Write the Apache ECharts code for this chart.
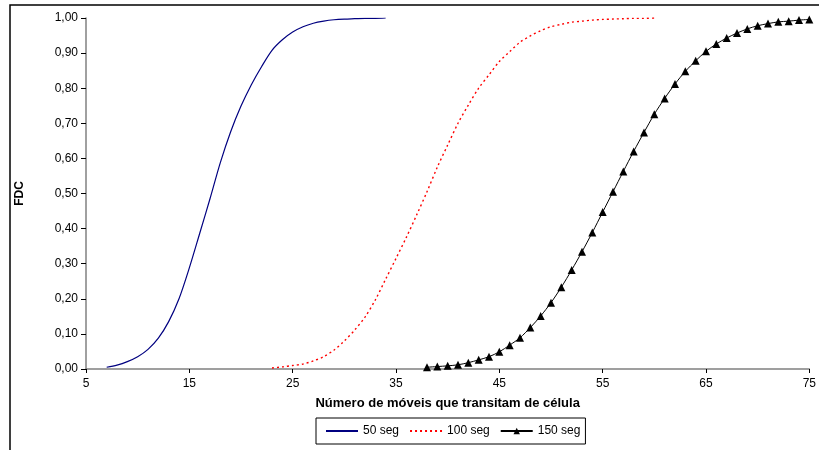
<!DOCTYPE html>
<html>
<head>
<meta charset="utf-8">
<script src="https://cdn.jsdelivr.net/npm/echarts@6/dist/echarts.min.js"></script>
<style>
  html, body { margin: 0; padding: 0; background: #fff; }
  #chart { width: 819px; height: 450px; }
</style>
</head>
<body>
<div id="chart"></div>
<script>
// FDC
const x50 = [7, 8, 9, 10, 11, 12, 13, 14, 15, 16, 17, 18, 19, 20, 21, 22, 23, 24, 25, 26, 27, 28, 29, 30, 31, 32, 33, 34];
const y50 = [0.005, 0.011, 0.021, 0.035, 0.056, 0.088, 0.135, 0.200, 0.288, 0.386, 0.485, 0.588, 0.676, 0.749,
  0.810, 0.862, 0.908, 0.938, 0.960, 0.975, 0.985, 0.991, 0.995, 0.997, 0.998, 0.999, 0.999, 1.000];

const x100 = [23, 24, 25, 26, 27, 28, 29, 30, 31, 32, 33, 34, 35, 36, 37, 38, 39, 40, 41, 42, 43, 44, 45, 46, 47,
  48, 49, 50, 51, 52, 53, 54, 55, 56, 57, 58, 59, 60];
const y100 = [0.003, 0.006, 0.010, 0.014, 0.023, 0.035, 0.054, 0.080, 0.111, 0.148, 0.197, 0.256, 0.315, 0.375,
  0.439, 0.505, 0.575, 0.638, 0.700, 0.752, 0.800, 0.838, 0.876, 0.904, 0.931, 0.949, 0.964, 0.975, 0.982,
  0.988, 0.991, 0.994, 0.996, 0.997, 0.998, 0.999, 0.999, 1.000];

const x150 = [38, 39, 40, 41, 42, 43, 44, 45, 46, 47, 48, 49, 50, 51, 52, 53, 54, 55, 56, 57, 58, 59, 60, 61, 62,
  63, 64, 65, 66, 67, 68, 69, 70, 71, 72, 73, 74, 75];
const y150 = [0.005, 0.007, 0.009, 0.012, 0.018, 0.026, 0.035, 0.049, 0.068, 0.089, 0.118, 0.151, 0.189, 0.233,
  0.282, 0.334, 0.389, 0.447, 0.505, 0.563, 0.620, 0.674, 0.726, 0.771, 0.812, 0.848, 0.878, 0.905, 0.926,
  0.943, 0.957, 0.969, 0.978, 0.984, 0.989, 0.991, 0.994, 0.996];

const seriesNames = ['50 seg', '100 seg', '150 seg'];

const pairs = (xs, ys) => xs.map((x, i) => [x, ys[i]]);

const chart = echarts.init(document.getElementById('chart'), null, { renderer: 'canvas' });

const font = 'Liberation Sans, Arial, sans-serif';

chart.setOption({
  animation: false,
  backgroundColor: '#fff',
  textStyle: { fontFamily: font },
  graphic: [{
    type: 'rect',
    shape: { x: 10, y: 5, width: 830, height: 470 },
    style: { fill: 'none', stroke: '#000', lineWidth: 1.5 },
    silent: true
  }],
  grid: { left: 86, right: 6, top: 18, bottom: 81 },
  legend: {
    data: [
      { name: seriesNames[0], itemStyle: { opacity: 0 } },
      { name: seriesNames[1], itemStyle: { opacity: 0 } },
      { name: seriesNames[2] }
    ],
    bottom: 6,
    left: 316,
    padding: [7, 5, 7, 9],
    borderColor: '#000',
    borderWidth: 1,
    itemWidth: 32,
    itemHeight: 8,
    itemGap: 10,
    textStyle: { fontFamily: font, fontSize: 12, color: '#000' }
  },
  xAxis: {
    type: 'value',
    min: 5,
    max: 75,
    interval: 10,
    name: 'Número de móveis que transitam de célula',
    nameLocation: 'middle',
    nameGap: 28,
    nameTextStyle: { fontFamily: font, fontSize: 13, fontWeight: 'bold', color: '#000' },
    axisLine: { lineStyle: { color: '#808080', width: 1.5 } },
    axisTick: { length: 4, lineStyle: { color: '#000' } },
    axisLabel: { fontFamily: font, fontSize: 12, color: '#000', margin: 9 },
    splitLine: { show: false }
  },
  yAxis: {
    type: 'value',
    min: 0,
    max: 1,
    interval: 0.1,
    name: 'FDC',
    nameLocation: 'middle',
    nameGap: 60,
    nameTextStyle: { fontFamily: font, fontSize: 12, fontWeight: 'bold', color: '#000' },
    axisLine: { show: true, lineStyle: { color: '#808080', width: 1.5 } },
    axisTick: { show: true, length: 5, lineStyle: { color: '#000' } },
    axisLabel: {
      fontFamily: font, fontSize: 12, color: '#000', margin: 8,
      formatter: v => v.toFixed(2).replace('.', ',')
    },
    splitLine: { show: false }
  },
  series: [
    {
      name: seriesNames[0],
      type: 'line',
      data: pairs(x50, y50),
      smooth: 0.3,
      showSymbol: false,
      itemStyle: { color: '#000080' },
      lineStyle: { color: '#000080', width: 1.2 }
    },
    {
      name: seriesNames[1],
      type: 'line',
      data: pairs(x100, y100),
      smooth: 0.3,
      showSymbol: false,
      itemStyle: { color: '#ff0000' },
      lineStyle: { color: '#ff0000', width: 1.4, type: [2, 3] }
    },
    {
      name: seriesNames[2],
      type: 'line',
      data: pairs(x150, y150),
      smooth: 0.3,
      symbol: 'triangle',
      symbolSize: 8,
      itemStyle: { color: '#000' },
      lineStyle: { color: '#000', width: 1 }
    }
  ]
});
</script>
</body>
</html>
